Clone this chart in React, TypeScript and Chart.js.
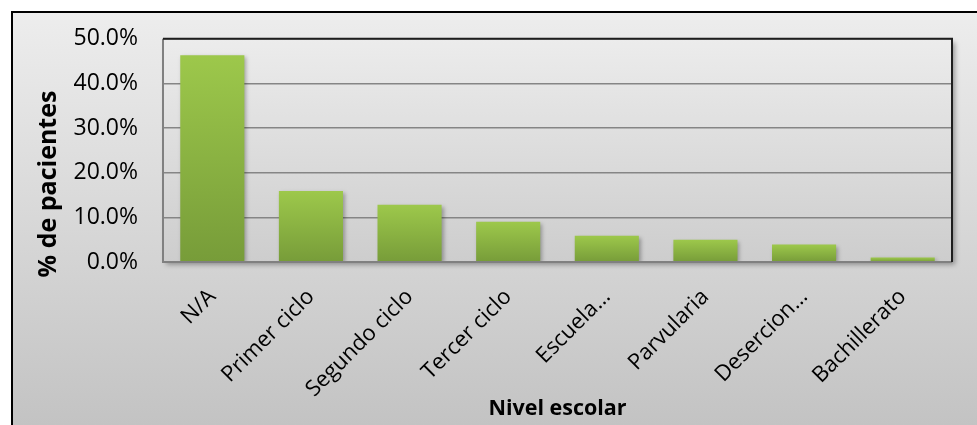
import React, { useEffect, useRef } from "react";
import { Chart, registerables } from "chart.js";

Chart.register(...registerables);

const categories = ["N/A", "Primer ciclo", "Segundo ciclo", "Tercer ciclo", "Escuela…", "Parvularia", "Desercion…", "Bachillerato"];
const percentValues = [46.3, 15.9, 12.8, 9.0, 5.9, 5.0, 3.9, 1.0];
const yTicks = [0, 10, 20, 30, 40, 50];
const yTitle = "% de pacientes";
const xTitle = "Nivel escolar";

const FONT = "'Open Sans', sans-serif";

const decorPlugin = {
  id: "decor",
  beforeDraw(chart: any) {
    const { ctx, width, height, chartArea } = chart;
    ctx.save();
    ctx.fillStyle = "#ffffff";
    ctx.fillRect(0, 0, width, height);
    const g = ctx.createLinearGradient(0, 12, 0, height);
    g.addColorStop(0, "#ededed");
    g.addColorStop(1, "#c3c3c3");
    ctx.fillStyle = g;
    ctx.fillRect(12, 12, width, height);
    ctx.strokeStyle = "#000000";
    ctx.lineWidth = 2;
    ctx.strokeRect(12, 12, width + 20, height + 20);
    const { left, top, right, bottom } = chartArea;
    ctx.save();
    ctx.shadowColor = "rgba(0,0,0,0.35)";
    ctx.shadowBlur = 5;
    ctx.shadowOffsetX = 3;
    ctx.shadowOffsetY = 3;
    const pg = ctx.createLinearGradient(0, top, 0, bottom);
    pg.addColorStop(0, "#ececec");
    pg.addColorStop(1, "#cdcdcd");
    ctx.fillStyle = pg;
    ctx.fillRect(left, top, right - left, bottom - top);
    ctx.restore();
    ctx.restore();
  },
  beforeDatasetDraw(chart: any) {
    const ctx = chart.ctx;
    ctx.save();
    ctx.shadowColor = "rgba(0,0,0,0.3)";
    ctx.shadowBlur = 4;
    ctx.shadowOffsetX = 2;
    ctx.shadowOffsetY = 2;
  },
  afterDatasetDraw(chart: any) {
    chart.ctx.restore();
  },
  afterDraw(chart: any) {
    const { ctx, chartArea } = chart;
    const { left, top, right, bottom } = chartArea;
    ctx.save();
    ctx.lineWidth = 2;
    ctx.strokeStyle = "#808080";
    ctx.beginPath();
    ctx.moveTo(left, top);
    ctx.lineTo(left, bottom);
    ctx.lineTo(right, bottom);
    ctx.stroke();
    ctx.strokeStyle = "#1e1e1e";
    ctx.beginPath();
    ctx.moveTo(left, top);
    ctx.lineTo(right, top);
    ctx.lineTo(right, bottom);
    ctx.stroke();
    ctx.fillStyle = "#000000";
    ctx.font = "bold 25px " + FONT;
    ctx.textAlign = "center";
    ctx.textBaseline = "middle";
    ctx.save();
    ctx.translate(49, 184);
    ctx.rotate(-Math.PI / 2);
    ctx.fillText(yTitle, 0, 0);
    ctx.restore();
    ctx.font = "bold 21.5px " + FONT;
    ctx.fillText(xTitle, (left + right) / 2, 409);
    ctx.restore();
  },
};

export default function App() {
  const ref = useRef<HTMLCanvasElement | null>(null);
  useEffect(() => {
    if (!ref.current) return;
    const chart = new Chart(ref.current, {
      type: "bar",
      data: {
        labels: categories,
        datasets: [
          {
            data: percentValues,
            backgroundColor: (c: any) => {
              const ch = c.chart;
              const ys = ch.scales && ch.scales.y;
              if (!ch.chartArea || !ys || c.raw === undefined) return "#8bb544";
              const yTop = ys.getPixelForValue(c.raw);
              const yBot = ys.getPixelForValue(0);
              const g = ch.ctx.createLinearGradient(0, yTop, 0, yBot + 0.01);
              g.addColorStop(0, "#9dc84b");
              g.addColorStop(1, "#779c39");
              return g;
            },
            borderWidth: 0,
            barPercentage: 0.65,
            categoryPercentage: 1.0,
          },
        ],
      },
      options: {
        responsive: false,
        animation: false,
        layout: { padding: { left: 0, top: 37, right: 25, bottom: 0 } },
        plugins: { legend: { display: false }, tooltip: { enabled: false } },
        scales: {
          x: {
            grid: { display: false },
            border: { display: false },
            ticks: {
              color: "#000000",
              font: { family: FONT, size: 22 },
              minRotation: 45,
              maxRotation: 45,
              padding: 14,
              autoSkip: false,
            },
            afterFit: (s: any) => {
              s.height = 163;
            },
          },
          y: {
            min: 0,
            max: 50,
            afterBuildTicks: (s: any) => {
              s.ticks = yTicks.map((v) => ({ value: v }));
            },
            grid: { color: "#858585", lineWidth: 1.6, drawTicks: false },
            border: { display: false },
            ticks: {
              color: "#000000",
              font: { family: FONT, size: 23 },
              padding: 25,
              callback: (v: any) => Number(v).toFixed(1) + "%",
            },
            afterFit: (s: any) => {
              s.width = 163;
            },
          },
        },
      },
      plugins: [decorPlugin],
    });
    return () => chart.destroy();
  }, []);
  return (
    <div style={{ position: "absolute", left: 0, top: 0, width: 977, height: 425 }}>
      <canvas ref={ref} width={977} height={425} style={{ display: "block" }} />
    </div>
  );
}
